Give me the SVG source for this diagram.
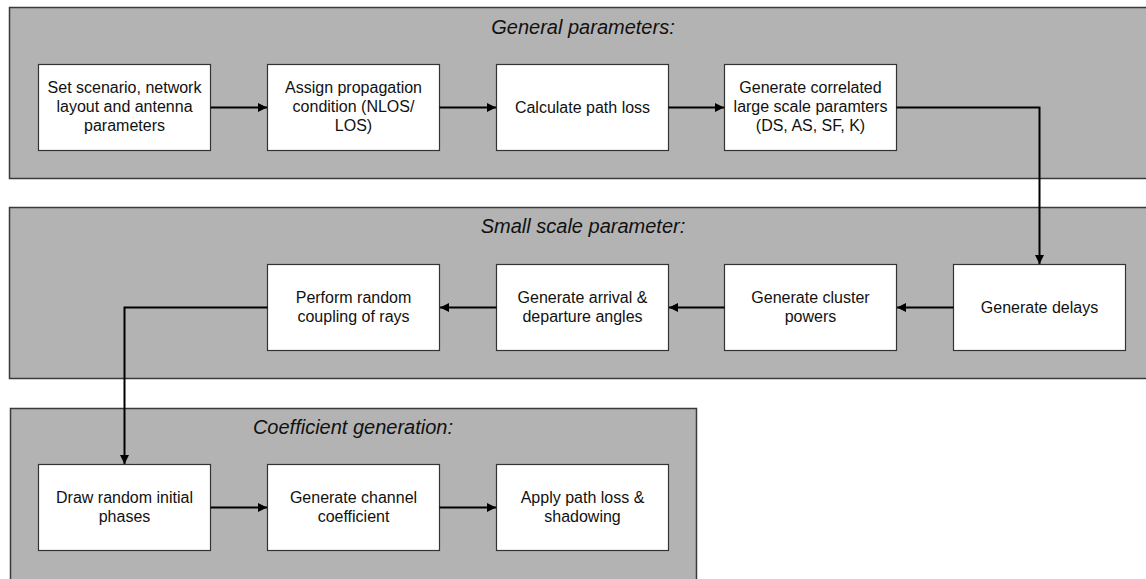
<svg xmlns="http://www.w3.org/2000/svg" width="1146" height="579" viewBox="0 0 1146 579">
<style>
.panel{fill:#b3b3b3;stroke:#3a3a3a;stroke-width:1.5}
.box{fill:#ffffff;stroke:#333333;stroke-width:1.2}
.title{font-family:"Liberation Sans",Arial,sans-serif;font-size:20px;font-style:italic;fill:#111;text-anchor:middle}
.t{font-family:"Liberation Sans",Arial,sans-serif;font-size:16px;fill:#111;text-anchor:middle}
.c{fill:none;stroke:#000;stroke-width:2}
</style>
<defs>
<marker id="ah" viewBox="0 0 10 10" refX="10" refY="5" markerWidth="9" markerHeight="10" markerUnits="userSpaceOnUse" orient="auto">
<path d="M0,0 L10,5 L0,10 z" fill="#000"/>
</marker>
</defs>
<rect width="1146" height="579" fill="#fff"/>
<g id="panel-general">
<rect class="panel" x="9.5" y="7.5" width="1150" height="171"/>
<text class="title" x="583" y="34">General parameters:</text>
</g>
<g id="panel-small">
<rect class="panel" x="9.5" y="207.5" width="1150" height="171"/>
<text class="title" x="583" y="233">Small scale parameter:</text>
</g>
<g id="panel-coef">
<rect class="panel" x="10.5" y="408.5" width="686" height="190"/>
<text class="title" x="353" y="434">Coefficient generation:</text>
</g>
<g id="n1"><rect class="box" x="38.5" y="64.5" width="172" height="86"/>
<text class="t" x="124.5" y="93">Set scenario, network</text><text class="t" x="124.5" y="112">layout and antenna</text><text class="t" x="124.5" y="131">parameters</text></g>
<g id="n2"><rect class="box" x="267.5" y="64.5" width="172" height="86"/>
<text class="t" x="353.5" y="93">Assign propagation</text><text class="t" x="353.5" y="112">condition (NLOS/</text><text class="t" x="353.5" y="131">LOS)</text></g>
<g id="n3"><rect class="box" x="496.5" y="64.5" width="172" height="86"/>
<text class="t" x="582.5" y="113">Calculate path loss</text></g>
<g id="n4"><rect class="box" x="724.5" y="64.5" width="172" height="86"/>
<text class="t" x="810.5" y="93">Generate correlated</text><text class="t" x="810.5" y="112">large scale paramters</text><text class="t" x="810.5" y="131">(DS, AS, SF, K)</text></g>
<g id="n5"><rect class="box" x="953.5" y="264.5" width="172" height="86"/>
<text class="t" x="1039.5" y="313">Generate delays</text></g>
<g id="n6"><rect class="box" x="724.5" y="264.5" width="172" height="86"/>
<text class="t" x="810.5" y="303">Generate cluster</text><text class="t" x="810.5" y="322">powers</text></g>
<g id="n7"><rect class="box" x="496.5" y="264.5" width="172" height="86"/>
<text class="t" x="582.5" y="303">Generate arrival &amp;</text><text class="t" x="582.5" y="322">departure angles</text></g>
<g id="n8"><rect class="box" x="267.5" y="264.5" width="172" height="86"/>
<text class="t" x="353.5" y="303">Perform random</text><text class="t" x="353.5" y="322">coupling of rays</text></g>
<g id="n9"><rect class="box" x="38.5" y="464.5" width="172" height="86"/>
<text class="t" x="124.5" y="503">Draw random initial</text><text class="t" x="124.5" y="522">phases</text></g>
<g id="n10"><rect class="box" x="267.5" y="464.5" width="172" height="86"/>
<text class="t" x="353.5" y="503">Generate channel</text><text class="t" x="353.5" y="522">coefficient</text></g>
<g id="n11"><rect class="box" x="496.5" y="464.5" width="172" height="86"/>
<text class="t" x="582.5" y="503">Apply path loss &amp;</text><text class="t" x="582.5" y="522">shadowing</text></g>
<g id="connectors">
<path class="c" d="M210.5,107.5 H267" marker-end="url(#ah)"/>
<path class="c" d="M439.5,107.5 H496" marker-end="url(#ah)"/>
<path class="c" d="M668.5,107.5 H724" marker-end="url(#ah)"/>
<path class="c" d="M896.5,107.5 H1039.5 V264" marker-end="url(#ah)"/>
<path class="c" d="M953.5,307.5 H897" marker-end="url(#ah)"/>
<path class="c" d="M724.5,307.5 H669" marker-end="url(#ah)"/>
<path class="c" d="M496.5,307.5 H440" marker-end="url(#ah)"/>
<path class="c" d="M267.5,307.5 H124.5 V464" marker-end="url(#ah)"/>
<path class="c" d="M210.5,507.5 H267" marker-end="url(#ah)"/>
<path class="c" d="M439.5,507.5 H496" marker-end="url(#ah)"/>
</g>
</svg>
